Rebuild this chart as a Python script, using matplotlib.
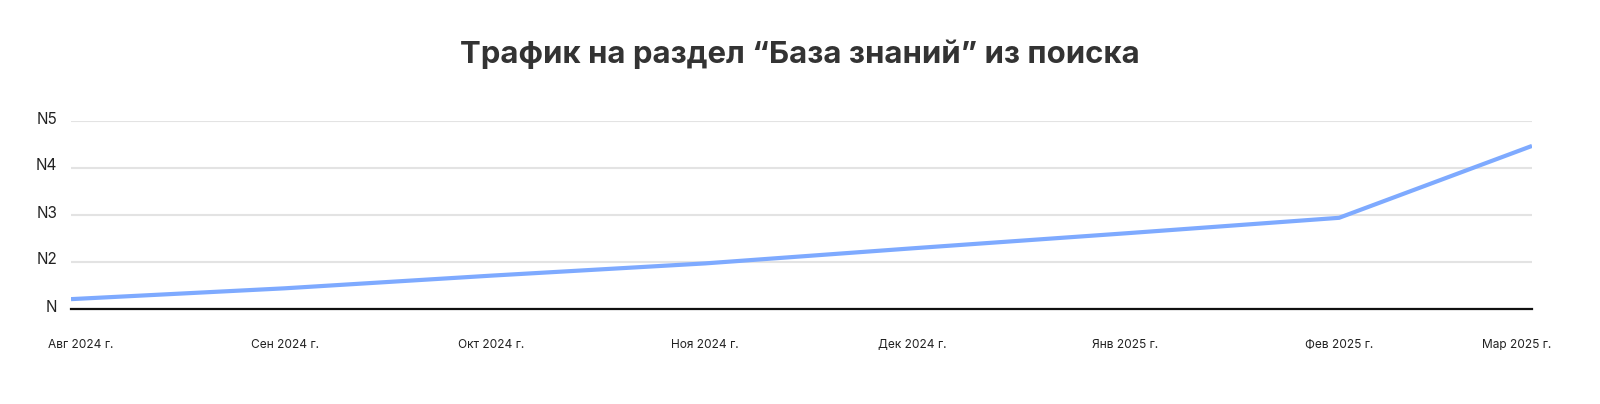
import matplotlib
matplotlib.use("Agg")
import matplotlib.pyplot as plt
import matplotlib.dates as mdates
import matplotlib.transforms as mtransforms
import numpy as np
import pandas as pd

# Monthly traffic to the "knowledge base" section (relative units, N = 1)
months = pd.to_datetime(["2024-08-01", "2024-09-01", "2024-10-01", "2024-11-01",
                         "2024-12-01", "2025-01-01", "2025-02-01", "2025-03-01"])
traffic = [1.21, 1.44, 1.71, 1.97, 2.29, 2.61, 2.94, 4.47]
month_labels = ["Авг 2024 г.", "Сен 2024 г.", "Окт 2024 г.", "Ноя 2024 г.",
                "Дек 2024 г.", "Янв 2025 г.", "Фев 2025 г.", "Мар 2025 г."]
y_ticks = [1, 2, 3, 4, 5]
y_labels = ["N", "N2", "N3", "N4", "N5"]

plt.rcParams['font.family'] = ['Inter', 'DejaVu Sans']

fig = plt.figure(figsize=(16, 4.04), dpi=100)
ax = fig.add_axes([71 / 1600, 1 - 309 / 404, (1532 - 71) / 1600, (309 - 121) / 404])

ax.plot(months, traffic, color="#7eaaff", lw=3, solid_capstyle="butt", zorder=3)

ax.set_xlim(months[0], months[-1])
ax.set_ylim(1, 5)

# grid
ax.set_yticks(y_ticks)
ax.set_yticklabels(y_labels, fontsize=11, color="#222222")
ax.tick_params(axis="y", length=0, pad=10)
for lab in ax.get_yticklabels():
    lab.set_verticalalignment("bottom")
    lab.set_y(lab.get_position()[1])
ax.yaxis.grid(True, color="#e3e3e3", lw=1.5)
ax.set_axisbelow(True)
# nudge y labels up slightly
off = mtransforms.ScaledTranslation(0, 2 / 100, fig.dpi_scale_trans)
for lab in ax.get_yticklabels():
    lab.set_verticalalignment("center")
    lab.set_transform(lab.get_transform() + off)

for s in ["top", "right", "left"]:
    ax.spines[s].set_visible(False)
ax.spines["bottom"].set_color("#111111")
ax.spines["bottom"].set_linewidth(1.6)
ax.spines["bottom"].set_zorder(4)

# x labels, edge ones pulled inside
ax.set_xticks([])
trans = mtransforms.blended_transform_factory(ax.transData, ax.transAxes)
for i, (m, lab) in enumerate(zip(months, month_labels)):
    dx = 0
    if i == 0:
        dx = 10
    elif i == len(months) - 1:
        dx = -15
    t = mtransforms.offset_copy(trans, fig=fig, x=dx, y=0, units="dots")
    ax.text(mdates.date2num(m), -0.19, lab, transform=t, ha="center", va="center",
            fontsize=8.6, color="#222222")

fig.text(0.5, 1 - 54 / 404, "Трафик на раздел “База знаний” из поиска",
         ha="center", va="center", fontsize=22.4, fontweight="bold", color="#333333")

fig.savefig("out.png", dpi=100, facecolor="white")
